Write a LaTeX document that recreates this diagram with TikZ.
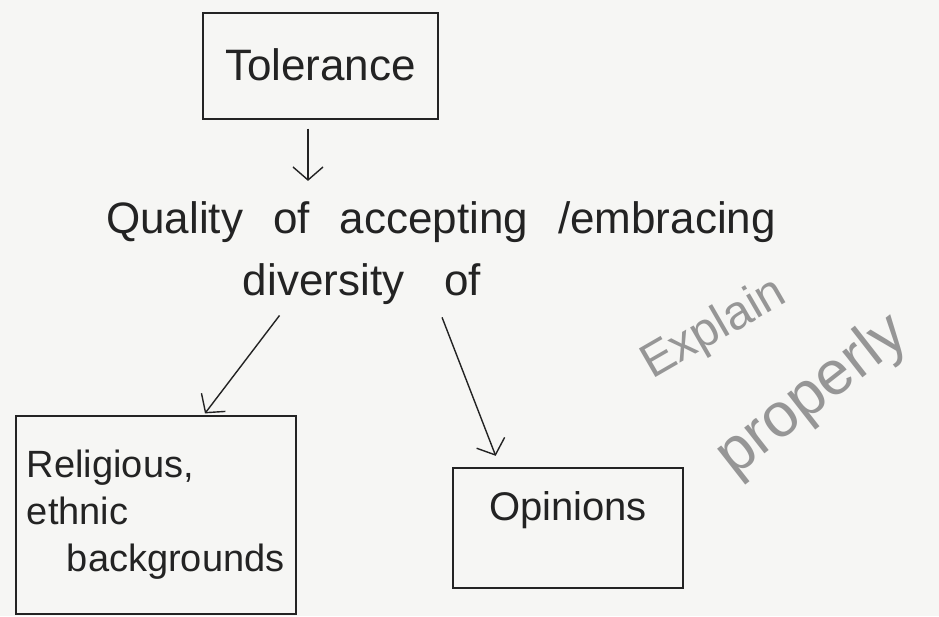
\documentclass[tikz,border=0pt]{standalone}
\usepackage{fontspec}
\setmainfont{Liberation Sans}
\usetikzlibrary{arrows.meta}

\definecolor{paper}{RGB}{246,246,244}
\definecolor{ink}{RGB}{35,35,35}
\definecolor{pencil}{RGB}{150,150,150}

\begin{document}
\begin{tikzpicture}[x=1pt, y=-1pt]
    \tikzset{
      box/.style  = {draw=ink, line width=1.5pt, rectangle, inner sep=0pt, text=ink},
      word/.style = {text=ink, inner sep=0pt, anchor=base, font=\fontsize{44}{50}\selectfont},
      arr/.style  = {draw=ink, line width=1.4pt, -{Straight Barb[length=13pt, width=30pt]}},
      note/.style = {text=pencil, inner sep=0pt, anchor=base west}
    }
    \useasboundingbox[fill=paper] (0,0) rectangle (939,616);

    % Boxes
    \node[box, anchor=north, minimum width=235pt, text height=68pt, text depth=38pt,
          font=\fontsize{44}{50}\selectfont] (tol) at (320.5,12) {Tolerance};
    \node[box, anchor=north west, minimum width=280pt, minimum height=198pt, align=left,
          font=\fontsize{38}{47}\selectfont] (relig) at (15,415)
          {Religious,\\ ethnic\\ \hspace*{40pt}backgrounds};
    \node[box, anchor=north, minimum width=230pt, text height=53pt, text depth=67pt,
          font=\fontsize{40}{48}\selectfont] (opinions) at (568,467) {Opinions};

    % Middle text
    \node[word] (quality) at (441,233) {\spaceskip=30pt Quality of accepting /embracing};
    \node[word] (diversity) at (362,295) {\spaceskip=40pt diversity of};

    % Arrows
    \draw[arr, shorten <=9pt, shorten >=20pt] ([xshift=-12.5pt]tol.south) -- ([xshift=-12.5pt]tol.south |- quality.north);
    \draw[arr, shorten <=14pt, shorten >=2pt] ([xshift=-74pt]diversity.south) -- ([xshift=48pt]relig.north);
    \draw[arr, shorten <=14pt, shorten >=12pt] ([xshift=75pt]diversity.south) -- ([xshift=-68pt]opinions.north);

    % Remark in pencil
    \node[note, rotate=30, font=\fontsize{48}{58}\selectfont] (explain) at (652,380) {Explain};
    \node[note, rotate=38, font=\fontsize{62}{70}\selectfont] (properly) at (734,478) {properly};
\end{tikzpicture}
\end{document}
